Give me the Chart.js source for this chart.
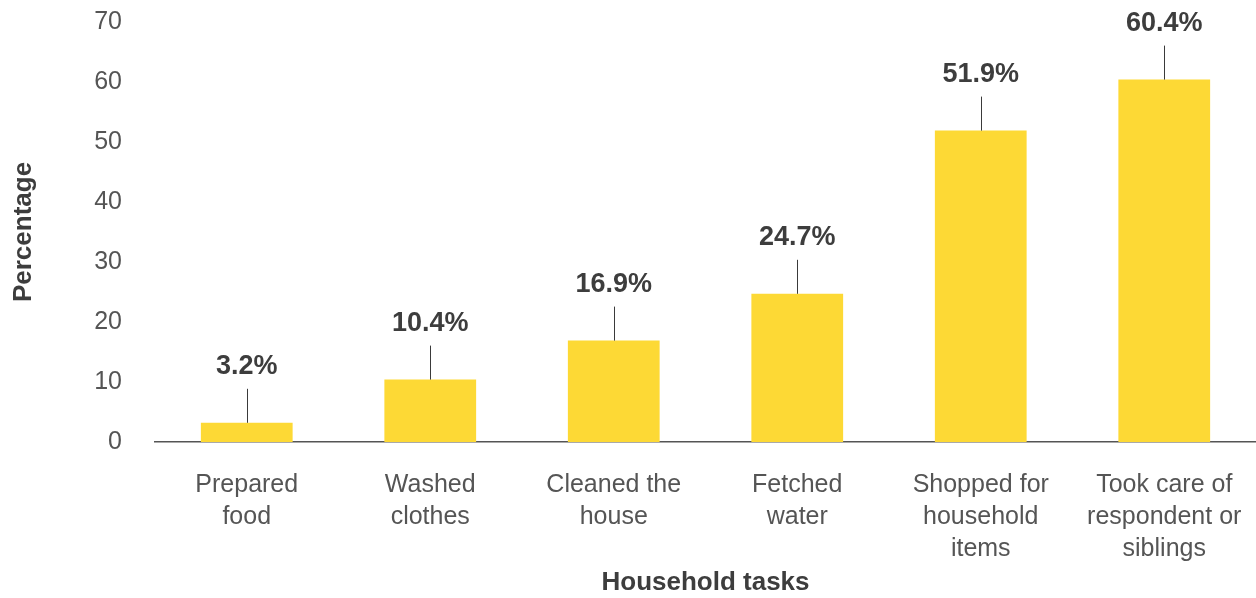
<!DOCTYPE html>
<html>
<head>
<meta charset="utf-8">
<script src="https://cdn.jsdelivr.net/npm/chart.js@4"></script>
<style>
  html, body { margin: 0; padding: 0; background: #fff; }
  #wrap { width: 1256px; height: 598px; position: relative; }
</style>
</head>
<body>
<div id="wrap"><canvas id="chart"></canvas></div>
<script>
const tasks = [
    ['Prepared', 'food'],
    ['Washed', 'clothes'],
    ['Cleaned the', 'house'],
    ['Fetched', 'water'],
    ['Shopped for', 'household', 'items'],
    ['Took care of', 'respondent or', 'siblings']
];
const percentages = [3.2, 10.4, 16.9, 24.7, 51.9, 60.4];
const yTicks = [0, 10, 20, 30, 40, 50, 60, 70];

const FONT = '"Liberation Sans", Arial, sans-serif';

// value labels sitting on a short stem above each bar
const stemLabels = {
    id: 'stemLabels',
    afterDatasetsDraw(chart) {
        const ctx = chart.ctx;
        const meta = chart.getDatasetMeta(0);
        ctx.save();
        meta.data.forEach((bar, i) => {
            const top = bar.y;
            ctx.strokeStyle = '#3a3a3a';
            ctx.lineWidth = 1;
            ctx.beginPath();
            ctx.moveTo(Math.round(bar.x) + 0.5, top);
            ctx.lineTo(Math.round(bar.x) + 0.5, top - 34);
            ctx.stroke();
            ctx.fillStyle = '#3d3d3d';
            ctx.font = 'bold 27px ' + FONT;
            ctx.textAlign = 'center';
            ctx.textBaseline = 'middle';
            ctx.fillText(percentages[i].toFixed(1) + '%', bar.x, top - 56);
        });
        ctx.restore();
    }
};

// keep the plot box where it is, no extra room for edge tick labels
const noEdgePadding = (axis) => {
    axis.paddingTop = 0;
    axis.paddingBottom = 0;
    axis.paddingLeft = 0;
    axis.paddingRight = 0;
};

const ctx = document.getElementById('chart').getContext('2d');
const myChart = new Chart(ctx, {
    type: 'bar',
    data: {
        labels: tasks,
        datasets: [{
            data: percentages,
            backgroundColor: '#FDD935',
            borderWidth: 0,
            categoryPercentage: 1,
            barPercentage: 0.5
        }]
    },
    options: {
        responsive: true,
        maintainAspectRatio: false,
        animation: false,
        layout: { padding: { top: 22, right: 0, left: 0, bottom: 0 } },
        plugins: {
            legend: { display: false },
            tooltip: { enabled: false }
        },
        scales: {
            x: {
                afterFit(axis) { axis.height = 156; noEdgePadding(axis); },
                grid: { display: false, drawTicks: false },
                border: { display: true, color: '#555', width: 1.5 },
                ticks: {
                    color: '#555',
                    font: { family: FONT, size: 25, lineHeight: 1.28 },
                    padding: 27,
                    maxRotation: 0,
                    autoSkip: false
                },
                title: {
                    display: true,
                    text: 'Household tasks',
                    color: '#3d3d3d',
                    font: { family: FONT, size: 26, weight: 'bold' },
                    padding: { top: 0, bottom: 0 }
                }
            },
            y: {
                min: 0,
                max: 70,
                afterFit(axis) { axis.width = 155; noEdgePadding(axis); },
                afterBuildTicks(axis) {
                    axis.ticks = yTicks.map(v => ({ value: v }));
                },
                grid: { display: false, drawTicks: false },
                border: { display: false },
                ticks: {
                    color: '#555',
                    font: { family: FONT, size: 25 },
                    padding: 33
                },
                title: {
                    display: true,
                    text: 'Percentage',
                    color: '#3d3d3d',
                    font: { family: FONT, size: 26, weight: 'bold' },
                    padding: { top: 8, bottom: 0 }
                }
            }
        }
    },
    plugins: [stemLabels]
});
</script>
</body>
</html>
